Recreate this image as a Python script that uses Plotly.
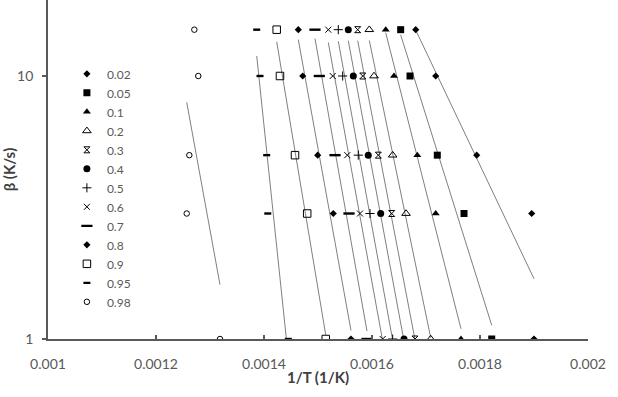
import numpy as np
import plotly.graph_objects as go

# Heating rates (K/s)
beta = [15, 10, 5, 3, 1]

# Conversion levels
alpha_labels = ["0.02", "0.05", "0.1", "0.2", "0.3", "0.4", "0.5", "0.6", "0.7", "0.8", "0.9", "0.95", "0.98"]

# 1/T (1/K) values for each conversion, ordered as beta = 15, 10, 5, 3, 1
invT_002 = [0.0016810, 0.0017180, 0.0017939, 0.0018957, 0.0019000]
invT_005 = [0.0016531, 0.0016704, 0.0017209, 0.0017704, 0.0018217]
invT_01 = [0.0016254, 0.0016407, 0.0016839, 0.0017180, 0.0017648]
invT_02 = [0.0015950, 0.0016037, 0.0016383, 0.0016630, 0.0017087]
invT_03 = [0.0015735, 0.0015828, 0.0016117, 0.0016365, 0.0016796]
invT_04 = [0.0015561, 0.0015654, 0.0015931, 0.0016161, 0.0016593]
invT_05 = [0.0015376, 0.0015457, 0.0015746, 0.0015963, 0.0016383]
invT_06 = [0.0015191, 0.0015272, 0.0015543, 0.0015778, 0.0016198]
invT_07 = [0.0014944, 0.0015024, 0.0015315, 0.0015574, 0.0015907]
invT_08 = [0.0014635, 0.0014717, 0.0014994, 0.0015283, 0.0015611]
invT_09 = [0.0014235, 0.0014296, 0.0014574, 0.0014800, 0.0015143]
invT_095 = [0.0013865, 0.0013926, 0.0014050, 0.0014070, 0.0014450]
invT_098 = [0.0012710, 0.0012783, 0.0012617, 0.0012569, 0.0013185]

series = [invT_002, invT_005, invT_01, invT_02, invT_03, invT_04, invT_05,
          invT_06, invT_07, invT_08, invT_09, invT_095, invT_098]

x_tickvals = [0.001, 0.0012, 0.0014, 0.0016, 0.0018, 0.002]
x_ticktext = ["0.001", "0.0012", "0.0014", "0.0016", "0.0018", "0.002"]
y_tickvals = [1, 10]
y_ticktext = ["1", "10"]

# marker styles: (symbol, size, line width)
styles = [
    ("diamond", 5.5, 0),
    ("square", 7, 0),
    ("triangle-up", 7, 0),
    ("triangle-up-open", 7.5, 1),
    ("hourglass-open", 6, 1),
    ("circle", 7, 0),
    ("cross-thin-open", 6.5, 1),
    ("x-thin-open", 6, 1),
    ("line-ew-open", 8, 2.4),
    ("diamond", 5.5, 0),
    ("square-open", 7.5, 1),
    ("line-ew-open", 5, 2.4),
    ("circle-open", 5.5, 1),
]

fig = go.Figure()

# exponential trendlines (ln(beta) linear in 1/T), drawn over data x-range
lnb = np.log(np.array(beta, dtype=float))
for xs in series:
    xa = np.array(xs)
    b, a = np.polyfit(xa, lnb, 1)
    xl = np.linspace(xa.min(), xa.max(), 20)
    fig.add_trace(go.Scatter(x=xl, y=np.exp(a + b * xl), mode="lines",
                             line=dict(color="#707070", width=0.9),
                             showlegend=False, hoverinfo="skip"))

for lab, xs, (sym, sz, lw) in zip(alpha_labels, series, styles):
    fig.add_trace(go.Scatter(x=xs, y=beta, mode="markers", name=lab,
                             marker=dict(symbol=sym, size=sz, color="black",
                                         line=dict(color="black", width=lw))))

axis_col = "#595959"
fig.update_layout(
    width=618, height=397,
    margin=dict(l=48, r=30, t=0, b=58),
    paper_bgcolor="white", plot_bgcolor="white",
    font=dict(family="Lato, 'Open Sans', sans-serif", size=14, color=axis_col),
    showlegend=True,
    legend=dict(x=0.035, y=0.825, xanchor="left", yanchor="top",
                bgcolor="rgba(0,0,0,0)", font=dict(size=12, color=axis_col),
                itemclick=False),
    xaxis=dict(range=[0.001, 0.002], tickvals=x_tickvals, ticktext=x_ticktext,
               ticks="inside", ticklen=4, tickcolor=axis_col, tickwidth=1.5,
               showline=True, linecolor=axis_col, linewidth=1.8,
               showgrid=False, zeroline=False, ticklabelstandoff=11,
               title=dict(text="<b>1/T (1/K)</b>", font=dict(size=15, color="#404040"),
                          standoff=2)),
    yaxis=dict(type="log", range=[0, np.log10(19.45)], tickvals=y_tickvals,
               ticktext=y_ticktext, ticks="outside", ticklen=4, tickcolor=axis_col,
               tickwidth=1.5, showline=True, linecolor=axis_col, linewidth=1.8,
               showgrid=False, zeroline=False, ticklabelstandoff=6,
               title=dict(text="<b>β (K/s)</b>", font=dict(size=15, color="#404040"),
                          standoff=2)),
)

fig.write_html("out.html")
